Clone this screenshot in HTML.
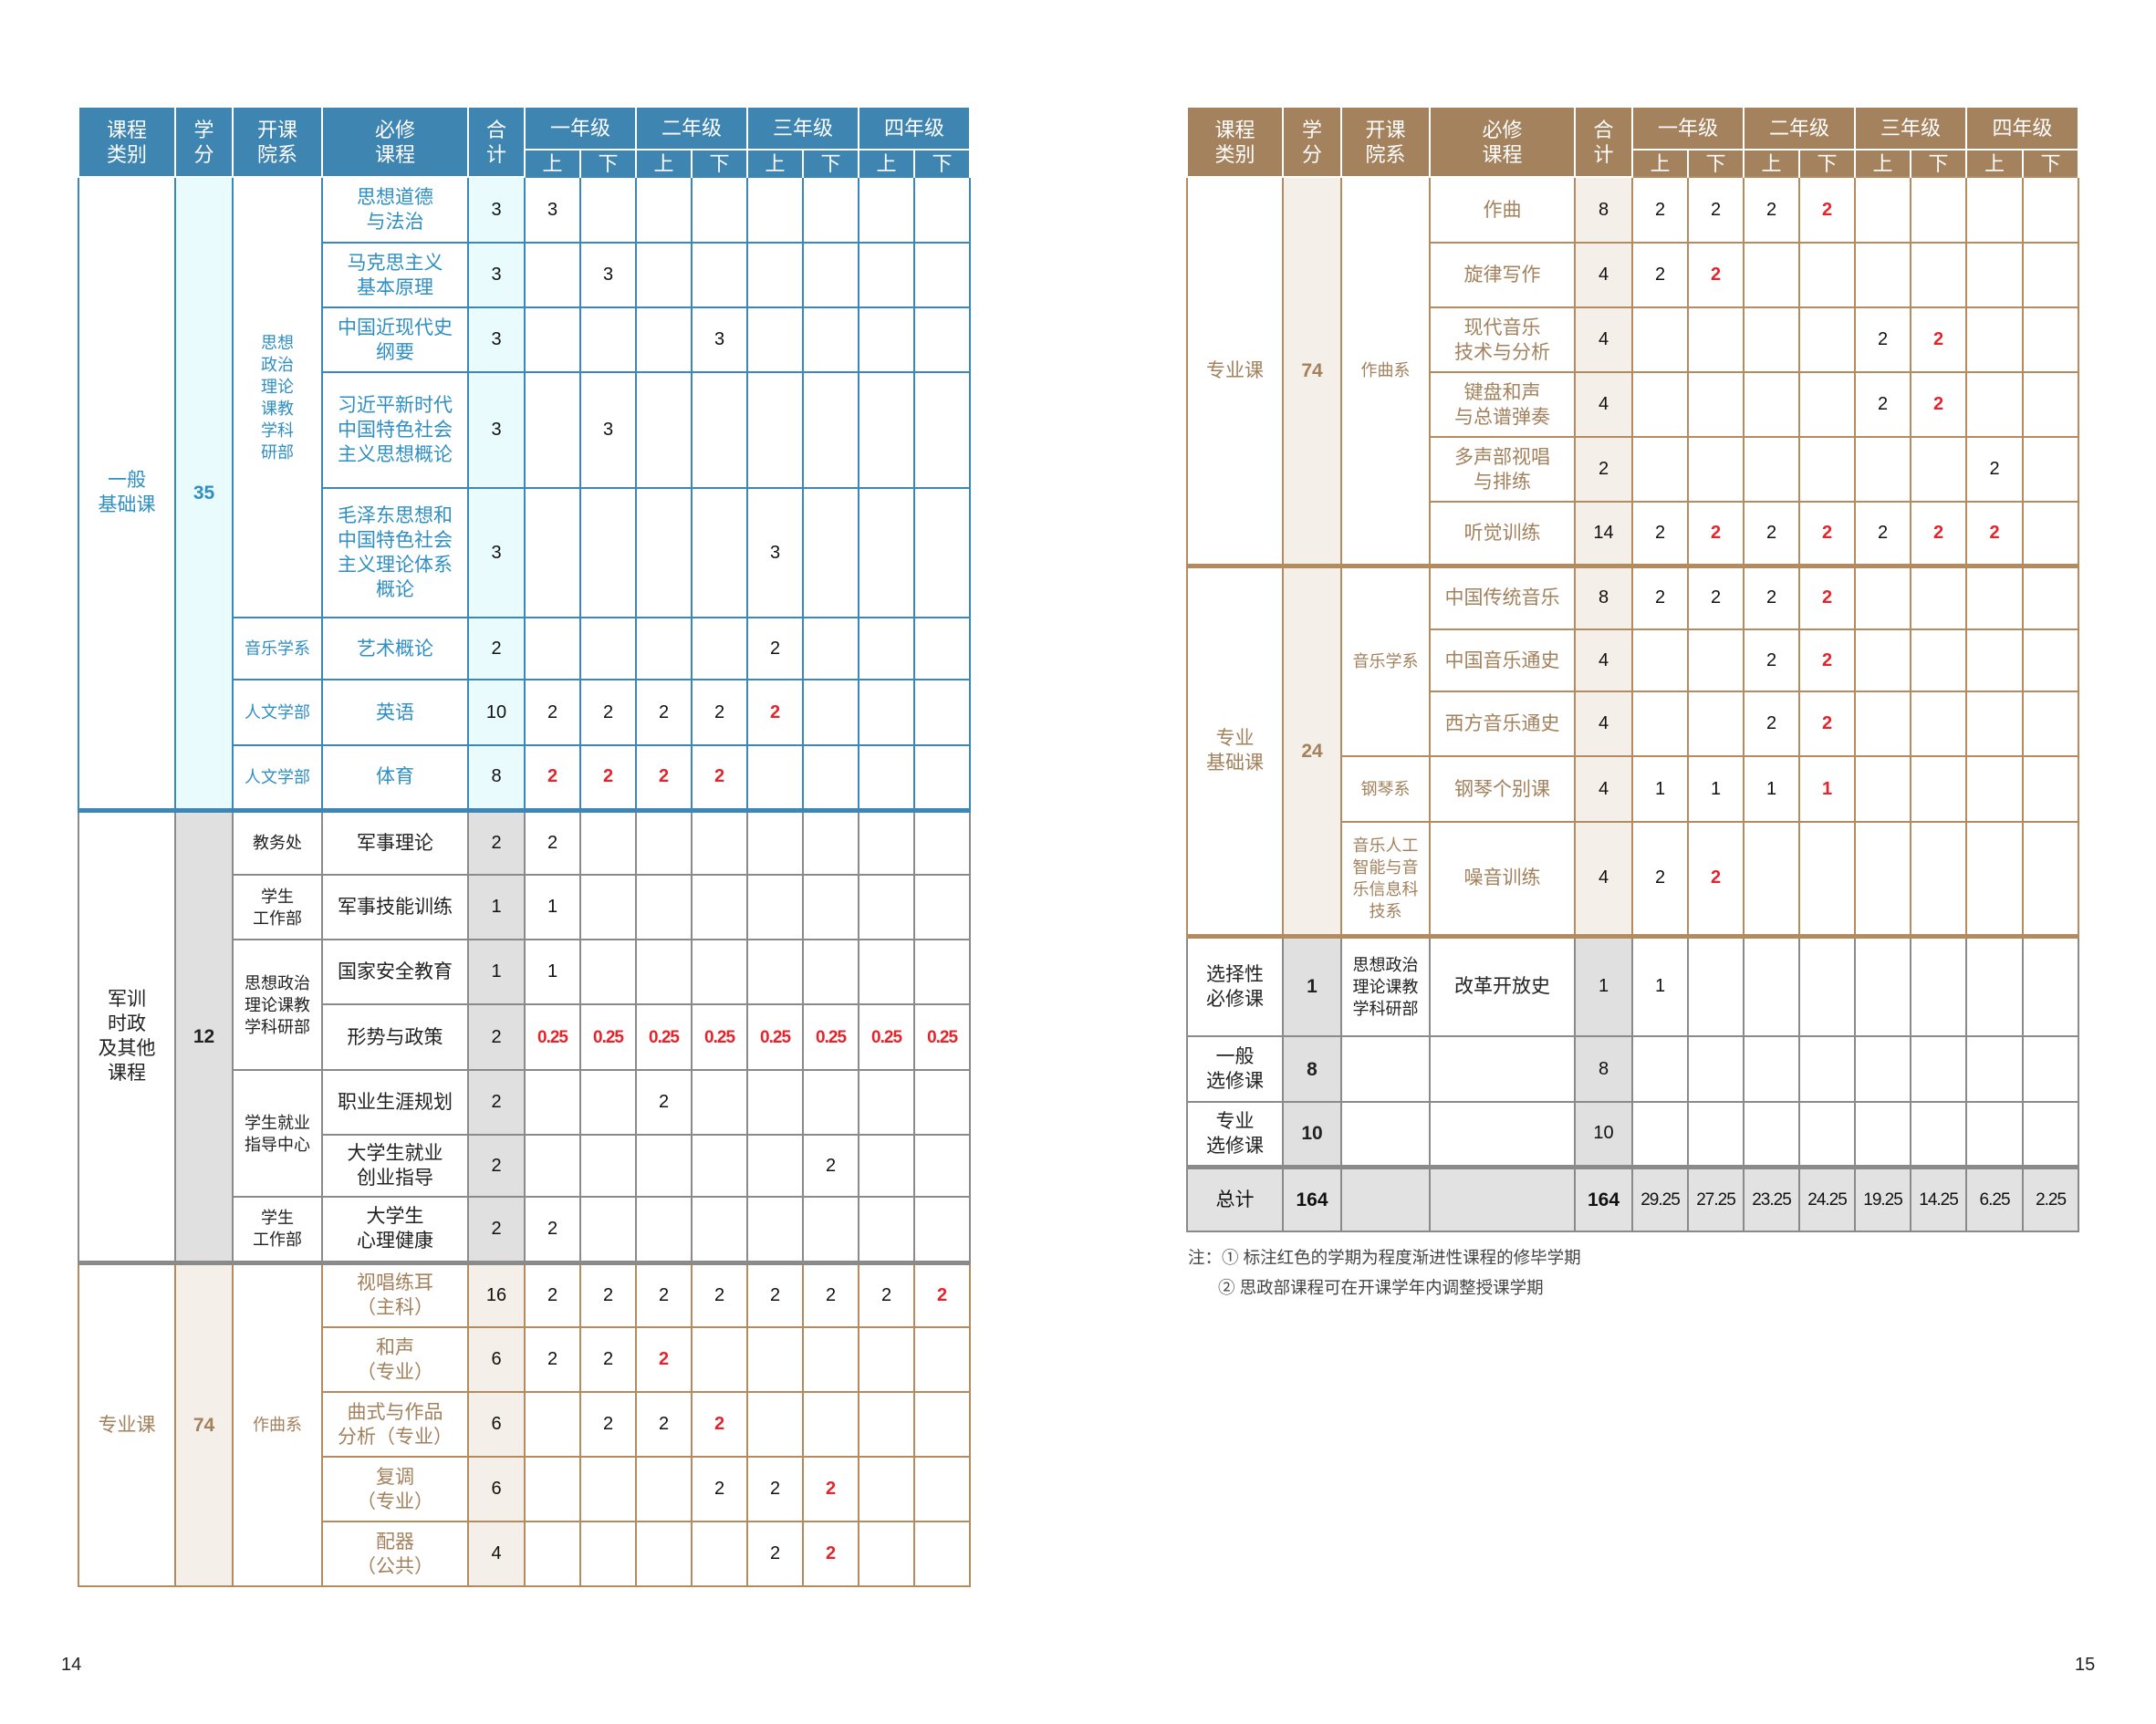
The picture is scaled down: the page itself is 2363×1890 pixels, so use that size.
<!DOCTYPE html>
<html><head><meta charset="utf-8">
<style>
body{margin:0;width:2363px;height:1890px;background:#fff;position:relative;overflow:hidden;font-family:"Liberation Sans","Noto Sans CJK SC",sans-serif;}
table{position:absolute;border-collapse:collapse;table-layout:fixed;}
td{padding:0;text-align:center;vertical-align:middle;font-size:21px;line-height:27px;border:2px solid #3c87b9;}
thead td{background:#3f85b2;color:#fff;border:2px solid #fff;border-top:none;font-size:22px;line-height:27px;}
#R thead td{background:#a5825e;}
thead tr.h1{height:46px}
thead tr.h2{height:30px}
thead tr.h2 td{border-bottom:none;}
.a td{border-color:#3c87b9;color:#2f8fc2;}
.b td{border-color:#8a8a8a;color:#222;}
.c td{border-color:#b38b5f;color:#a2815c;}
td.n{color:#111;font-size:20px;}
td.r{color:#e5232b;font-size:20px;font-weight:bold;}
td.q{font-size:19px;letter-spacing:-1px;}
td.s{font-size:18px;line-height:24px;}
.a td.bg{background:#e9fbfd;}
.b td.bg{background:#e0e0e0;}
.c td.bg{background:#f4efe8;}
td.bold{font-weight:bold;font-size:21px;}
tr.tb td{border-top:5px solid #3c87b9;}
tr.tg td{border-top:5px solid #8a8a8a;}
tr.tc td{border-top:5px solid #b38b5f;}
tr.tot td{background:#e2e2e2;color:#111;}
.pn{position:absolute;font-size:20px;color:#222;}
.note{position:absolute;font-size:18.5px;color:#444;white-space:nowrap;}
</style></head><body>

<table id="L" style="left:85px;top:118px;width:978px;">
<colgroup><col style="width:106px"><col style="width:63px"><col style="width:98px"><col style="width:160px"><col style="width:62px"><col style="width:61px"><col style="width:61px"><col style="width:61px"><col style="width:61px"><col style="width:61px"><col style="width:61px"><col style="width:61px"><col style="width:61px"></colgroup>
<thead>
<tr class="h1"><td rowspan="2">课程<br>类别</td><td rowspan="2">学<br>分</td><td rowspan="2">开课<br>院系</td><td rowspan="2">必修<br>课程</td><td rowspan="2">合<br>计</td><td colspan="2">一年级</td><td colspan="2">二年级</td><td colspan="2">三年级</td><td colspan="2">四年级</td></tr>
<tr class="h2"><td>上</td><td>下</td><td>上</td><td>下</td><td>上</td><td>下</td><td>上</td><td>下</td></tr>
</thead>
<tbody>
<tr class="a" style="height:72px"><td rowspan="8">一般<br>基础课</td><td rowspan="8" class="bg bold">35</td><td rowspan="5" class="s">思想<br>政治<br>理论<br>课教<br>学科<br>研部</td><td>思想道德<br>与法治</td><td class="bg n">3</td><td class="n">3</td><td></td><td></td><td></td><td></td><td></td><td></td><td></td></tr>
<tr class="a" style="height:71px"><td>马克思主义<br>基本原理</td><td class="bg n">3</td><td></td><td class="n">3</td><td></td><td></td><td></td><td></td><td></td><td></td></tr>
<tr class="a" style="height:71px"><td>中国近现代史<br>纲要</td><td class="bg n">3</td><td></td><td></td><td></td><td class="n">3</td><td></td><td></td><td></td><td></td></tr>
<tr class="a" style="height:127px"><td>习近平新时代<br>中国特色社会<br>主义思想概论</td><td class="bg n">3</td><td></td><td class="n">3</td><td></td><td></td><td></td><td></td><td></td><td></td></tr>
<tr class="a" style="height:142px"><td>毛泽东思想和<br>中国特色社会<br>主义理论体系<br>概论</td><td class="bg n">3</td><td></td><td></td><td></td><td></td><td class="n">3</td><td></td><td></td><td></td></tr>
<tr class="a" style="height:68px"><td class="s">音乐学系</td><td>艺术概论</td><td class="bg n">2</td><td></td><td></td><td></td><td></td><td class="n">2</td><td></td><td></td><td></td></tr>
<tr class="a" style="height:72px"><td class="s">人文学部</td><td>英语</td><td class="bg n">10</td><td class="n">2</td><td class="n">2</td><td class="n">2</td><td class="n">2</td><td class="r">2</td><td></td><td></td><td></td></tr>
<tr class="a" style="height:71px"><td class="s">人文学部</td><td>体育</td><td class="bg n">8</td><td class="r">2</td><td class="r">2</td><td class="r">2</td><td class="r">2</td><td></td><td></td><td></td><td></td></tr>
<tr class="b tb" style="height:71px"><td rowspan="7">军训<br>时政<br>及其他<br>课程</td><td rowspan="7" class="bg bold">12</td><td class="s">教务处</td><td>军事理论</td><td class="bg n">2</td><td class="n">2</td><td></td><td></td><td></td><td></td><td></td><td></td><td></td></tr>
<tr class="b" style="height:71px"><td class="s">学生<br>工作部</td><td>军事技能训练</td><td class="bg n">1</td><td class="n">1</td><td></td><td></td><td></td><td></td><td></td><td></td><td></td></tr>
<tr class="b" style="height:71px"><td rowspan="2" class="s">思想政治<br>理论课教<br>学科研部</td><td>国家安全教育</td><td class="bg n">1</td><td class="n">1</td><td></td><td></td><td></td><td></td><td></td><td></td><td></td></tr>
<tr class="b" style="height:72px"><td>形势与政策</td><td class="bg n">2</td><td class="r q">0.25</td><td class="r q">0.25</td><td class="r q">0.25</td><td class="r q">0.25</td><td class="r q">0.25</td><td class="r q">0.25</td><td class="r q">0.25</td><td class="r q">0.25</td></tr>
<tr class="b" style="height:71px"><td rowspan="2" class="s">学生就业<br>指导中心</td><td>职业生涯规划</td><td class="bg n">2</td><td></td><td></td><td class="n">2</td><td></td><td></td><td></td><td></td><td></td></tr>
<tr class="b" style="height:68px"><td>大学生就业<br>创业指导</td><td class="bg n">2</td><td></td><td></td><td></td><td></td><td></td><td class="n">2</td><td></td><td></td></tr>
<tr class="b" style="height:72px"><td class="s">学生<br>工作部</td><td>大学生<br>心理健康</td><td class="bg n">2</td><td class="n">2</td><td></td><td></td><td></td><td></td><td></td><td></td><td></td></tr>
<tr class="c tg" style="height:71px"><td rowspan="5">专业课</td><td rowspan="5" class="bg bold">74</td><td rowspan="5" class="s">作曲系</td><td>视唱练耳<br>（主科）</td><td class="bg n">16</td><td class="n">2</td><td class="n">2</td><td class="n">2</td><td class="n">2</td><td class="n">2</td><td class="n">2</td><td class="n">2</td><td class="r">2</td></tr>
<tr class="c" style="height:71px"><td>和声<br>（专业）</td><td class="bg n">6</td><td class="n">2</td><td class="n">2</td><td class="r">2</td><td></td><td></td><td></td><td></td><td></td></tr>
<tr class="c" style="height:71px"><td>曲式与作品<br>分析（专业）</td><td class="bg n">6</td><td></td><td class="n">2</td><td class="n">2</td><td class="r">2</td><td></td><td></td><td></td><td></td></tr>
<tr class="c" style="height:71px"><td>复调<br>（专业）</td><td class="bg n">6</td><td></td><td></td><td></td><td class="n">2</td><td class="n">2</td><td class="r">2</td><td></td><td></td></tr>
<tr class="c" style="height:71px"><td>配器<br>（公共）</td><td class="bg n">4</td><td></td><td></td><td></td><td></td><td class="n">2</td><td class="r">2</td><td></td><td></td></tr>
</tbody></table>

<table id="R" style="left:1300px;top:118px;width:977px;">
<colgroup><col style="width:105px"><col style="width:64px"><col style="width:97px"><col style="width:159px"><col style="width:63px"><col style="width:61px"><col style="width:61px"><col style="width:61px"><col style="width:61px"><col style="width:61px"><col style="width:61px"><col style="width:62px"><col style="width:61px"></colgroup>
<thead>
<tr class="h1"><td rowspan="2">课程<br>类别</td><td rowspan="2">学<br>分</td><td rowspan="2">开课<br>院系</td><td rowspan="2">必修<br>课程</td><td rowspan="2">合<br>计</td><td colspan="2">一年级</td><td colspan="2">二年级</td><td colspan="2">三年级</td><td colspan="2">四年级</td></tr>
<tr class="h2"><td>上</td><td>下</td><td>上</td><td>下</td><td>上</td><td>下</td><td>上</td><td>下</td></tr>
</thead>
<tbody>
<tr class="c" style="height:72px"><td rowspan="6">专业课</td><td rowspan="6" class="bg bold">74</td><td rowspan="6" class="s">作曲系</td><td>作曲</td><td class="bg n">8</td><td class="n">2</td><td class="n">2</td><td class="n">2</td><td class="r">2</td><td></td><td></td><td></td><td></td></tr>
<tr class="c" style="height:71px"><td>旋律写作</td><td class="bg n">4</td><td class="n">2</td><td class="r">2</td><td></td><td></td><td></td><td></td><td></td><td></td></tr>
<tr class="c" style="height:71px"><td>现代音乐<br>技术与分析</td><td class="bg n">4</td><td></td><td></td><td></td><td></td><td class="n">2</td><td class="r">2</td><td></td><td></td></tr>
<tr class="c" style="height:71px"><td>键盘和声<br>与总谱弹奏</td><td class="bg n">4</td><td></td><td></td><td></td><td></td><td class="n">2</td><td class="r">2</td><td></td><td></td></tr>
<tr class="c" style="height:71px"><td>多声部视唱<br>与排练</td><td class="bg n">2</td><td></td><td></td><td></td><td></td><td></td><td></td><td class="n">2</td><td></td></tr>
<tr class="c" style="height:70px"><td>听觉训练</td><td class="bg n">14</td><td class="n">2</td><td class="r">2</td><td class="n">2</td><td class="r">2</td><td class="n">2</td><td class="r">2</td><td class="r">2</td><td></td></tr>
<tr class="c tc" style="height:70px"><td rowspan="5">专业<br>基础课</td><td rowspan="5" class="bg bold">24</td><td rowspan="3" class="s">音乐学系</td><td>中国传统音乐</td><td class="bg n">8</td><td class="n">2</td><td class="n">2</td><td class="n">2</td><td class="r">2</td><td></td><td></td><td></td><td></td></tr>
<tr class="c" style="height:68px"><td>中国音乐通史</td><td class="bg n">4</td><td></td><td></td><td class="n">2</td><td class="r">2</td><td></td><td></td><td></td><td></td></tr>
<tr class="c" style="height:71px"><td>西方音乐通史</td><td class="bg n">4</td><td></td><td></td><td class="n">2</td><td class="r">2</td><td></td><td></td><td></td><td></td></tr>
<tr class="c" style="height:72px"><td class="s">钢琴系</td><td>钢琴个别课</td><td class="bg n">4</td><td class="n">1</td><td class="n">1</td><td class="n">1</td><td class="r">1</td><td></td><td></td><td></td><td></td></tr>
<tr class="c" style="height:125px"><td class="s">音乐人工<br>智能与音<br>乐信息科<br>技系</td><td>噪音训练</td><td class="bg n">4</td><td class="n">2</td><td class="r">2</td><td></td><td></td><td></td><td></td><td></td><td></td></tr>
<tr class="b tc" style="height:110px"><td>选择性<br>必修课</td><td class="bg bold">1</td><td class="s">思想政治<br>理论课教<br>学科研部</td><td>改革开放史</td><td class="bg n">1</td><td class="n">1</td><td></td><td></td><td></td><td></td><td></td><td></td><td></td></tr>
<tr class="b" style="height:72px"><td>一般<br>选修课</td><td class="bg bold">8</td><td></td><td></td><td class="bg n">8</td><td></td><td></td><td></td><td></td><td></td><td></td><td></td><td></td></tr>
<tr class="b" style="height:71px"><td>专业<br>选修课</td><td class="bg bold">10</td><td></td><td></td><td class="bg n">10</td><td></td><td></td><td></td><td></td><td></td><td></td><td></td><td></td></tr>
<tr class="b tg tot" style="height:71px"><td>总计</td><td class="bold">164</td><td></td><td></td><td class="n bold">164</td><td class="n q">29.25</td><td class="n q">27.25</td><td class="n q">23.25</td><td class="n q">24.25</td><td class="n q">19.25</td><td class="n q">14.25</td><td class="n q">6.25</td><td class="n q">2.25</td></tr>
</tbody></table>

<div class="note" style="left:1302px;top:1365px;">注：① 标注红色的学期为程度渐进性课程的修毕学期</div>
<div class="note" style="left:1335px;top:1398px;">② 思政部课程可在开课学年内调整授课学期</div>
<div class="pn" style="left:67px;top:1814px;">14</div>
<div class="pn" style="left:2274px;top:1814px;">15</div>
</body></html>
